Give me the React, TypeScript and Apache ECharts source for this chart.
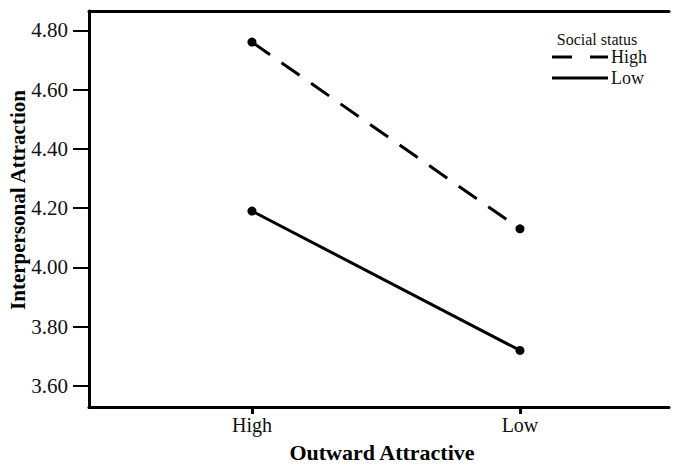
import React, { useEffect, useRef } from "react";
import * as echarts from "echarts";

const categories = ["High", "Low"];
const seriesNames = ["High", "Low"];
const highStatus = [4.76, 4.13];
const lowStatus = [4.19, 3.72];
const yTicks = [3.6, 3.8, 4.0, 4.2, 4.4, 4.6, 4.8];
const xTitle = "Outward Attractive";
const yTitle = "Interpersonal Attraction";
const legendTitle = "Social status";

const FONT = "'Liberation Serif', 'Times New Roman', serif";
const X_MIN = -0.608;
const X_MAX = 1.556;

export default function App() {
  const ref = useRef<HTMLDivElement>(null);
  useEffect(() => {
    const chart = echarts.init(ref.current!, null, { renderer: "svg" });
    const toPts = (arr: number[]) => arr.map((v, i) => [i, v]);
    chart.setOption({
      animation: false,
      backgroundColor: "#fff",
      grid: {
        left: 89,
        top: 11,
        right: 4,
        bottom: 59,
        outerBoundsMode: "none",
        containLabel: false,
        show: false,
      },
      xAxis: [
        {
          type: "value",
          min: X_MIN,
          max: X_MAX,
          splitLine: { show: false },
          axisLine: { show: true, onZero: false, lineStyle: { color: "#000", width: 3 } },
          axisTick: {
            show: true,
            customValues: [0, 1],
            length: 7,
            lineStyle: { color: "#000", width: 3 },
          },
          axisLabel: {
            customValues: [0, 1],
            formatter: (v: number) => categories[Math.round(v)] ?? "",
            color: "#111",
            fontFamily: FONT,
            fontSize: 20,
            margin: 8,
          },
        },
        {
          type: "value",
          position: "top",
          min: X_MIN,
          max: X_MAX,
          splitLine: { show: false },
          axisLine: { show: true, onZero: false, lineStyle: { color: "#000", width: 3 } },
          axisTick: { show: false },
          axisLabel: { show: false },
        },
      ],
      yAxis: {
        type: "value",
        min: 3.529,
        max: 4.865,
        splitLine: { show: false },
        axisLine: { show: true, onZero: false, lineStyle: { color: "#000", width: 3 } },
        axisTick: {
          show: true,
          customValues: yTicks,
          length: 16,
          lineStyle: { color: "#000", width: 2 },
        },
        axisLabel: {
          customValues: yTicks,
          formatter: (v: number) => v.toFixed(2),
          color: "#111",
          fontFamily: FONT,
          fontSize: 21,
          margin: 21,
        },
      },
      series: [
        {
          name: seriesNames[0],
          type: "line",
          data: toPts(highStatus),
          symbol: "circle",
          symbolSize: 9,
          itemStyle: { color: "#000" },
          lineStyle: { color: "#000", width: 3, type: [22, 14] },
        },
        {
          name: seriesNames[1],
          type: "line",
          data: toPts(lowStatus),
          symbol: "circle",
          symbolSize: 9,
          itemStyle: { color: "#000" },
          lineStyle: { color: "#000", width: 3 },
        },
      ],
      graphic: [
        {
          type: "text",
          x: 382,
          y: 452,
          style: {
            text: xTitle,
            font: `bold 22px ${FONT}`,
            fill: "#000",
            align: "center",
            verticalAlign: "middle",
          },
        },
        {
          type: "text",
          x: 18,
          y: 200,
          rotation: Math.PI / 2,
          style: {
            text: yTitle,
            font: `bold 21px ${FONT}`,
            fill: "#000",
            align: "center",
            verticalAlign: "middle",
          },
        },
        {
          type: "text",
          x: 597,
          y: 39,
          style: {
            text: legendTitle,
            font: `16px ${FONT}`,
            fill: "#111",
            align: "center",
            verticalAlign: "middle",
          },
        },
        {
          type: "line",
          shape: { x1: 552, y1: 57, x2: 608, y2: 57 },
          style: { stroke: "#000", lineWidth: 3, lineDash: [20, 18] },
        },
        {
          type: "text",
          x: 611,
          y: 57,
          style: {
            text: seriesNames[0],
            font: `18px ${FONT}`,
            fill: "#111",
            align: "left",
            verticalAlign: "middle",
          },
        },
        {
          type: "line",
          shape: { x1: 552, y1: 78, x2: 608, y2: 78 },
          style: { stroke: "#000", lineWidth: 3 },
        },
        {
          type: "text",
          x: 611,
          y: 78,
          style: {
            text: seriesNames[1],
            font: `18px ${FONT}`,
            fill: "#111",
            align: "left",
            verticalAlign: "middle",
          },
        },
      ],
    });
    return () => chart.dispose();
  }, []);
  return (
    <div
      ref={ref}
      style={{ position: "fixed", left: 0, top: 0, width: 673, height: 466 }}
    />
  );
}
